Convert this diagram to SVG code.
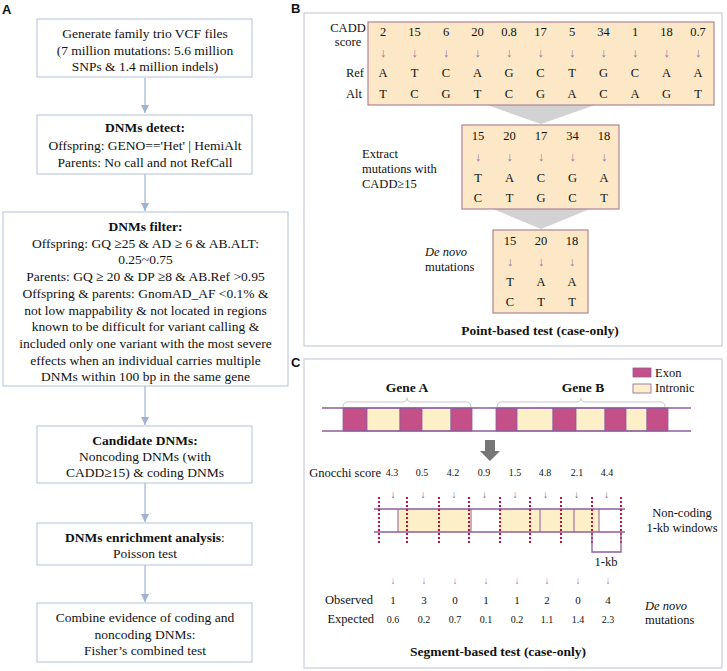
<svg xmlns="http://www.w3.org/2000/svg" width="727" height="671" viewBox="0 0 727 671">
<defs>
<style>
.t{font-family:"Liberation Serif",serif;font-size:13.5px;fill:#111;text-anchor:middle}
.b{font-weight:bold}
.l{text-anchor:start}
.r{text-anchor:end}
.i{font-style:italic}
.s{font-size:12.5px}
.xs{font-size:10px}
.lab{font-family:"Liberation Sans",sans-serif;font-weight:bold;font-size:13px;fill:#111}
.box{fill:#fff;stroke:#b4c0da;stroke-width:1}
.panel{fill:#fff;stroke:#c9cedc;stroke-width:1.2}
.flow{stroke:#9fb2d2;stroke-width:1.2;fill:none}
.pb{fill:#fce8c7;stroke:#b08494;stroke-width:1.2}
.arr{fill:#a0709c}
.arr2{fill:#5a5a80}
.funnel{fill:#d2d2d2}
.ex{fill:#c54f87;stroke:#8e5c9e;stroke-width:0.8}
.in{fill:#fdefc8;stroke:#8e5c9e;stroke-width:0.8}
.trk{stroke:#8e5c9e;stroke-width:1.3;fill:none}
.brace{stroke:#c8c8c8;stroke-width:1;fill:none}
.red{stroke:#c01038;stroke-width:2;stroke-dasharray:2 2;fill:none}
</style>
<marker id="ah" viewBox="0 0 10 10" refX="10" refY="5" markerWidth="8" markerHeight="8" markerUnits="userSpaceOnUse" orient="auto">
<path d="M0,0 L10,5 L0,10 z" fill="#9fb2d2"/>
</marker>
</defs>
<rect width="727" height="671" fill="#fff"/>

<!-- Panel labels -->
<text class="lab" x="2" y="14">A</text>
<text class="lab" x="291" y="13">B</text>
<text class="lab" x="291" y="367">C</text>

<!-- Panel A connectors -->
<g id="connectors-A">
<line class="flow" x1="145" y1="78" x2="145" y2="113" marker-end="url(#ah)"/>
<line class="flow" x1="145" y1="174" x2="145" y2="211" marker-end="url(#ah)"/>
<line class="flow" x1="145" y1="386" x2="145" y2="425" marker-end="url(#ah)"/>
<line class="flow" x1="145" y1="483" x2="145" y2="522" marker-end="url(#ah)"/>
<line class="flow" x1="145" y1="565" x2="145" y2="602" marker-end="url(#ah)"/>
</g>

<g id="node-generate">
<rect class="box" x="37" y="19" width="215" height="58"/>
<text class="t" x="145" y="38">Generate family trio VCF files</text>
<text class="t" x="145" y="54.5">(7 million mutations: 5.6 million</text>
<text class="t" x="145" y="71">SNPs &amp; 1.4 million indels)</text>
</g>

<g id="node-detect">
<rect class="box" x="37" y="115" width="215" height="59"/>
<text class="t b" x="145" y="132">DNMs detect:</text>
<text class="t" x="145" y="149.5">Offspring: GENO=='Het' | HemiAlt</text>
<text class="t" x="145" y="167">Parents: No call and not RefCall</text>
</g>

<g id="node-filter">
<rect class="box" x="3" y="212" width="285" height="174"/>
<text class="t b" x="145.5" y="231">DNMs filter:</text>
<text class="t" x="145.5" y="247.7">Offspring: GQ ≥25 &amp; AD ≥ 6 &amp; AB.ALT:</text>
<text class="t" x="145.5" y="264.4">0.25~0.75</text>
<text class="t" x="145.5" y="281.1">Parents: GQ ≥ 20 &amp; DP ≥8 &amp; AB.Ref &gt;0.95</text>
<text class="t" x="145.5" y="297.8">Offspring &amp; parents: GnomAD_AF &lt;0.1% &amp;</text>
<text class="t" x="145.5" y="314.5">not low mappability &amp; not located in regions</text>
<text class="t" x="145.5" y="331.2">known to be difficult for variant calling &amp;</text>
<text class="t" x="145.5" y="347.9">included only one variant with the most severe</text>
<text class="t" x="145.5" y="364.6">effects when an individual carries multiple</text>
<text class="t" x="145.5" y="381.3">DNMs within 100 bp in the same gene</text>
</g>

<g id="node-candidate">
<rect class="box" x="37" y="426" width="215" height="57"/>
<text class="t b" x="145" y="444.5">Candidate DNMs:</text>
<text class="t" x="145" y="461">Noncoding DNMs (with</text>
<text class="t" x="145" y="477">CADD≥15) &amp; coding DNMs</text>
</g>

<g id="node-enrichment">
<rect class="box" x="37" y="523" width="215" height="42"/>
<text class="t" x="145" y="542"><tspan class="b">DNMs enrichment analysis</tspan>:</text>
<text class="t" x="145" y="558">Poisson test</text>
</g>

<g id="node-combine">
<rect class="box" x="37" y="603" width="215" height="59"/>
<text class="t" x="145" y="622">Combine evidence of coding and</text>
<text class="t" x="145" y="638.5">noncoding DNMs:</text>
<text class="t" x="145" y="655">Fisher’s combined test</text>
</g>

<!-- Panel B -->
<g id="panel-B">
<rect class="panel" x="304" y="13" width="418" height="333"/>
<polygon class="funnel" points="487,105 595,105 541,124"/>
<polygon class="funnel" points="493,209 590,209 541,229"/>

<g id="node-all-mutations">
<rect class="pb" x="368" y="22" width="346" height="83"/>
<text class="t s" x="348" y="31.5">CADD</text>
<text class="t s" x="348" y="46">score</text>
<text class="t s r" x="364" y="77">Ref</text>
<text class="t s r" x="362" y="98">Alt</text>
<g class="t s">
<text x="383" y="36">2</text><text x="414.5" y="36">15</text><text x="446" y="36">6</text><text x="477.5" y="36">20</text><text x="509" y="36">0.8</text><text x="540.5" y="36">17</text><text x="572" y="36">5</text><text x="603.5" y="36">34</text><text x="635" y="36">1</text><text x="666.5" y="36">18</text><text x="698" y="36">0.7</text>
</g>
<g class="t s arr">
<text x="383" y="57">↓</text><text x="414.5" y="57">↓</text><text x="446" y="57">↓</text><text x="477.5" y="57">↓</text><text x="509" y="57">↓</text><text x="540.5" y="57">↓</text><text x="572" y="57">↓</text><text x="603.5" y="57">↓</text><text x="635" y="57">↓</text><text x="666.5" y="57">↓</text><text x="698" y="57">↓</text>
</g>
<g class="t s">
<text x="383" y="77">A</text><text x="414.5" y="77">T</text><text x="446" y="77">C</text><text x="477.5" y="77">A</text><text x="509" y="77">G</text><text x="540.5" y="77">C</text><text x="572" y="77">T</text><text x="603.5" y="77">G</text><text x="635" y="77">C</text><text x="666.5" y="77">A</text><text x="698" y="77">A</text>
<text x="383" y="98">T</text><text x="414.5" y="98">C</text><text x="446" y="98">G</text><text x="477.5" y="98">T</text><text x="509" y="98">C</text><text x="540.5" y="98">G</text><text x="572" y="98">A</text><text x="603.5" y="98">C</text><text x="635" y="98">A</text><text x="666.5" y="98">G</text><text x="698" y="98">T</text>
</g>
</g>

<g id="node-cadd15">
<rect class="pb" x="462" y="125" width="157" height="84"/>
<text class="t s l" x="362" y="158">Extract</text>
<text class="t s l" x="362" y="173">mutations with</text>
<text class="t s l" x="362" y="188">CADD≥15</text>
<g class="t s">
<text x="478" y="140">15</text><text x="509.5" y="140">20</text><text x="541" y="140">17</text><text x="572.5" y="140">34</text><text x="604" y="140">18</text>
</g>
<g class="t s arr">
<text x="478" y="161">↓</text><text x="509.5" y="161">↓</text><text x="541" y="161">↓</text><text x="572.5" y="161">↓</text><text x="604" y="161">↓</text>
</g>
<g class="t s">
<text x="478" y="181.5">T</text><text x="509.5" y="181.5">A</text><text x="541" y="181.5">C</text><text x="572.5" y="181.5">G</text><text x="604" y="181.5">A</text>
<text x="478" y="202">C</text><text x="509.5" y="202">T</text><text x="541" y="202">G</text><text x="572.5" y="202">C</text><text x="604" y="202">T</text>
</g>
</g>

<g id="node-denovo">
<rect class="pb" x="493" y="230" width="95" height="83"/>
<text class="t s l i" x="425" y="256">De novo</text>
<text class="t s l" x="425" y="271">mutations</text>
<g class="t s">
<text x="510" y="245">15</text><text x="541" y="245">20</text><text x="572" y="245">18</text>
</g>
<g class="t s arr">
<text x="510" y="266">↓</text><text x="541" y="266">↓</text><text x="572" y="266">↓</text>
</g>
<g class="t s">
<text x="510" y="286">T</text><text x="541" y="286">A</text><text x="572" y="286">A</text>
<text x="510" y="306">C</text><text x="541" y="306">T</text><text x="572" y="306">T</text>
</g>
</g>
<text class="t b" x="540" y="335">Point-based test (case-only)</text>
</g>

<!-- Panel C -->
<g id="panel-C">
<rect class="panel" x="304" y="359" width="418" height="309"/>

<g id="legend">
<rect class="ex" x="633" y="368" width="18" height="9"/>
<text class="t s l" x="655" y="377">Exon</text>
<rect class="in" x="633" y="384" width="18" height="9"/>
<text class="t s l" x="655" y="392">Intronic</text>
</g>

<g id="gene-track">
<text class="t b" x="407" y="392">Gene A</text>
<text class="t b" x="583" y="392">Gene B</text>
<path class="brace" d="M343,407 Q343,402 348,402 L402,402 Q407,402 407,398 Q407,402 412,402 L466,402 Q471,402 471,407"/>
<path class="brace" d="M497,407 Q497,402 502,402 L576,402 Q581,402 581,398 Q581,402 586,402 L660,402 Q665,402 665,407"/>
<rect class="ex" x="343" y="408" width="24" height="23"/>
<rect class="in" x="367" y="408" width="33" height="23"/>
<rect class="ex" x="400" y="408" width="22" height="23"/>
<rect class="in" x="422" y="408" width="29" height="23"/>
<rect class="ex" x="451" y="408" width="21" height="23"/>
<rect class="ex" x="496" y="408" width="21" height="23"/>
<rect class="in" x="517" y="408" width="36" height="23"/>
<rect class="ex" x="553" y="408" width="23" height="23"/>
<rect class="in" x="576" y="408" width="29" height="23"/>
<rect class="ex" x="605" y="408" width="21" height="23"/>
<rect class="in" x="626" y="408" width="21" height="23"/>
<rect class="ex" x="647" y="408" width="21" height="23"/>
<line class="trk" x1="322" y1="408" x2="691" y2="408"/>
<line class="trk" x1="322" y1="431" x2="691" y2="431"/>
</g>

<path d="M485,440 L495,440 L495,451 L500,451 L490,461 L480,451 L485,451 Z" fill="#777"/>

<g id="gnocchi">
<text class="t s r" x="381" y="476.5">Gnocchi score</text>
<g class="t xs">
<text x="392" y="476">4.3</text><text x="422" y="476">0.5</text><text x="453" y="476">4.2</text><text x="484" y="476">0.9</text><text x="515" y="476">1.5</text><text x="545" y="476">4.8</text><text x="577" y="476">2.1</text><text x="607" y="476">4.4</text>
</g>
<g class="t xs arr2">
<text x="393" y="498">↓</text><text x="423" y="498">↓</text><text x="454" y="498">↓</text><text x="484.5" y="498">↓</text><text x="515" y="498">↓</text><text x="545.5" y="498">↓</text><text x="576.5" y="498">↓</text><text x="606.5" y="498">↓</text>
</g>
</g>

<g id="windows-track">
<rect x="398" y="509" width="73" height="23" fill="#fdefc8"/>
<rect x="500" y="509" width="99" height="23" fill="#fdefc8"/>
<line class="trk" x1="374" y1="509" x2="625" y2="509"/>
<line class="trk" x1="374" y1="532" x2="625" y2="532"/>
<g stroke="#8e5c9e" stroke-width="1">
<line x1="398" y1="509" x2="398" y2="532"/>
<line x1="471" y1="509" x2="471" y2="532"/>
<line x1="540" y1="509" x2="540" y2="532"/>
<line x1="574" y1="509" x2="574" y2="532"/>
<line x1="599" y1="509" x2="599" y2="532"/>
</g>
<g class="red">
<line x1="379" y1="497" x2="379" y2="543"/>
<line x1="407" y1="497" x2="407" y2="543"/>
<line x1="439" y1="497" x2="439" y2="543"/>
<line x1="469" y1="497" x2="469" y2="543"/>
<line x1="500" y1="497" x2="500" y2="543"/>
<line x1="530" y1="497" x2="530" y2="543"/>
<line x1="561" y1="497" x2="561" y2="543"/>
<line x1="592" y1="497" x2="592" y2="543"/>
<line x1="621" y1="497" x2="621" y2="543"/>
</g>
<path class="trk" d="M592,532 L592,552 L621,552 L621,532" stroke-width="1"/>
<text class="t s" x="606" y="566">1-kb</text>
<text class="t s" x="682" y="517">Non-coding</text>
<text class="t s" x="682" y="532">1-kb windows</text>
</g>

<g id="counts">
<g class="t xs arr">
<text x="393" y="584">↓</text><text x="424" y="584">↓</text><text x="455" y="584">↓</text><text x="486" y="584">↓</text><text x="517" y="584">↓</text><text x="547" y="584">↓</text><text x="578" y="584">↓</text><text x="608" y="584">↓</text>
</g>
<text class="t s r" x="373" y="604">Observed</text>
<text class="t s r" x="374" y="623">Expected</text>
<g class="t xs" style="font-size:11px">
<text x="393" y="604">1</text><text x="424" y="604">3</text><text x="455" y="604">0</text><text x="486" y="604">1</text><text x="517" y="604">1</text><text x="547" y="604">2</text><text x="578" y="604">0</text><text x="608" y="604">4</text>
</g>
<g class="t xs">
<text x="393" y="623">0.6</text><text x="424" y="623">0.2</text><text x="455" y="623">0.7</text><text x="486" y="623">0.1</text><text x="517" y="623">0.2</text><text x="547" y="623">1.1</text><text x="578" y="623">1.4</text><text x="608" y="623">2.3</text>
</g>
<text class="t s l i" x="645" y="610">De novo</text>
<text class="t s l" x="645" y="624">mutations</text>
</g>
<text class="t b" x="498" y="656">Segment-based test (case-only)</text>
</g>
</svg>
